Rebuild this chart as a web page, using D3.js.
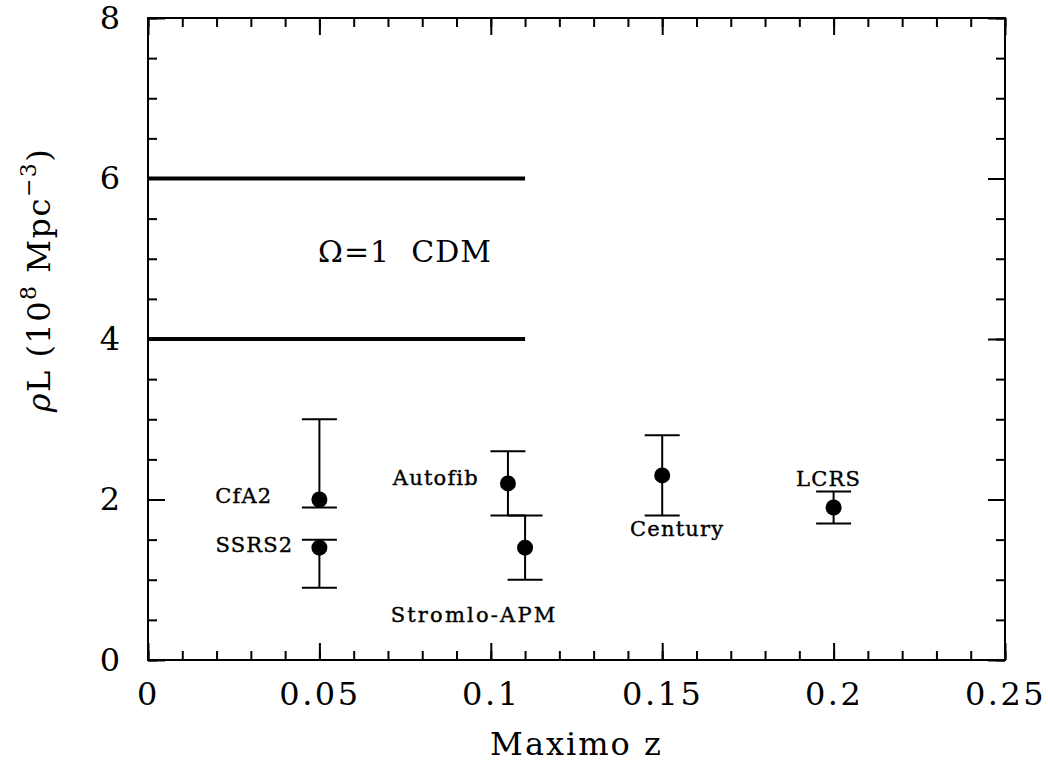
<!DOCTYPE html>
<html>
<head>
<meta charset="utf-8">
<script src="https://cdn.jsdelivr.net/npm/d3@7"></script>
<style>
  html, body { margin: 0; padding: 0; background: #fff; }
  svg { display: block; }
</style>
</head>
<body>
<script>
// ---- Data ----
const surveys = ["CfA2", "SSRS2", "Autofib", "Stromlo-APM", "Century", "LCRS"];
const zMax    = [0.05, 0.05, 0.105, 0.11, 0.15, 0.2];
const rhoL    = [2.0, 1.4, 2.2, 1.4, 2.3, 1.9];
const errLow  = [1.9, 0.9, 1.8, 1.0, 1.8, 1.7];
const errHigh = [3.0, 1.5, 2.6, 1.8, 2.8, 2.1];

const cdmLevels = [4, 6];
const cdmZStart = 0;
const cdmZEnd = 0.11;
const cdmLabel = "Ω=1  CDM";

const xMajorTicks = [0, 0.05, 0.1, 0.15, 0.2, 0.25];
const xTickLabels = ["0", "0.05", "0.1", "0.15", "0.2", "0.25"];
const yMajorTicks = [0, 2, 4, 6, 8];
const yTickLabels = ["0", "2", "4", "6", "8"];

// ---- Layout ----
const W = 1048, H = 764;
const m = { left: 148, right: 1048 - 1005, top: 18, bottom: 764 - 660 };
const font = "'DejaVu Serif', serif";

const svg = d3.select("body").append("svg").attr("width", W).attr("height", H);

const x = d3.scaleLinear().domain([0, 0.25]).range([m.left, W - m.right]);
const y = d3.scaleLinear().domain([0, 8]).range([H - m.bottom, m.top]);

const xMinor = d3.range(0, 0.2501, 0.01).map(v => +v.toFixed(2));
const yMinor = d3.range(0, 8.01, 0.5);

const majorLen = 17, minorLen = 9;

function styleAxis(g) {
  g.select(".domain").remove();
  g.selectAll(".tick line").attr("stroke", "#000").attr("stroke-width", 2);
  g.selectAll(".tick text").attr("font-family", font).attr("fill", "#000");
}

// bottom
svg.append("g").attr("transform", `translate(0,${y(0)})`)
  .call(d3.axisBottom(x).tickValues(xMinor).tickSize(-minorLen).tickFormat(""))
  .call(styleAxis);
svg.append("g").attr("transform", `translate(0,${y(0)})`)
  .call(d3.axisBottom(x).tickValues(xMajorTicks).tickSize(-majorLen).tickPadding(majorLen + 5)
        .tickFormat((d, i) => xTickLabels[i]))
  .call(styleAxis)
  .call(g => g.selectAll(".tick text").attr("font-size", 32).attr("letter-spacing", 2.5).attr("dy", "0.72em"));
// top
svg.append("g").attr("transform", `translate(0,${y(8)})`)
  .call(d3.axisTop(x).tickValues(xMinor).tickSize(-minorLen).tickFormat(""))
  .call(styleAxis);
svg.append("g").attr("transform", `translate(0,${y(8)})`)
  .call(d3.axisTop(x).tickValues(xMajorTicks).tickSize(-majorLen).tickFormat(""))
  .call(styleAxis);
// left
svg.append("g").attr("transform", `translate(${x(0)},0)`)
  .call(d3.axisLeft(y).tickValues(yMinor).tickSize(-minorLen).tickFormat(""))
  .call(styleAxis);
svg.append("g").attr("transform", `translate(${x(0)},0)`)
  .call(d3.axisLeft(y).tickValues(yMajorTicks).tickSize(-majorLen).tickPadding(majorLen + 11)
        .tickFormat((d, i) => yTickLabels[i]))
  .call(styleAxis)
  .call(g => g.selectAll(".tick text").attr("font-size", 32));
// right
svg.append("g").attr("transform", `translate(${x(0.25)},0)`)
  .call(d3.axisRight(y).tickValues(yMinor).tickSize(-minorLen).tickFormat(""))
  .call(styleAxis);
svg.append("g").attr("transform", `translate(${x(0.25)},0)`)
  .call(d3.axisRight(y).tickValues(yMajorTicks).tickSize(-majorLen).tickFormat(""))
  .call(styleAxis);

// frame
svg.append("rect")
  .attr("x", x(0)).attr("y", y(8))
  .attr("width", x(0.25) - x(0)).attr("height", y(0) - y(8))
  .attr("fill", "none").attr("stroke", "#000").attr("stroke-width", 2);

// CDM lines
svg.append("g").selectAll("line").data(cdmLevels).join("line")
  .attr("x1", x(cdmZStart)).attr("x2", x(cdmZEnd))
  .attr("y1", d => y(d)).attr("y2", d => y(d))
  .attr("stroke", "#000").attr("stroke-width", 4);

svg.append("text")
  .attr("x", 405).attr("y", 262)
  .attr("text-anchor", "middle")
  .attr("font-family", font).attr("font-size", 30)
  .attr("letter-spacing", 1)
  .style("white-space", "pre")
  .text(cdmLabel);

// data points
const pts = surveys.map((s, i) => ({ s, z: zMax[i], v: rhoL[i], lo: errLow[i], hi: errHigh[i] }));
const capW = 17.5;
const eg = svg.append("g").attr("stroke", "#000").attr("stroke-width", 2);
pts.forEach(p => {
  eg.append("line").attr("x1", x(p.z)).attr("x2", x(p.z)).attr("y1", y(p.lo)).attr("y2", y(p.hi));
  eg.append("line").attr("x1", x(p.z) - capW).attr("x2", x(p.z) + capW).attr("y1", y(p.lo)).attr("y2", y(p.lo));
  eg.append("line").attr("x1", x(p.z) - capW).attr("x2", x(p.z) + capW).attr("y1", y(p.hi)).attr("y2", y(p.hi));
});
svg.append("g").selectAll("circle").data(pts).join("circle")
  .attr("cx", d => x(d.z)).attr("cy", d => y(d.v)).attr("r", 8).attr("fill", "#000");

// labels (pixel offsets from each point)
const labelOffsets = {
  "CfA2":        { dx: -47, dy: 3,  anchor: "end" },
  "SSRS2":       { dx: -26, dy: 4,  anchor: "end" },
  "Autofib":     { dx: -29, dy: 2,  anchor: "end" },
  "Stromlo-APM": { dx: -51, dy: 74, anchor: "middle" },
  "Century":     { dx: 15,  dy: 61, anchor: "middle" },
  "LCRS":        { dx: -5,  dy: -22, anchor: "middle" }
};
svg.append("g").selectAll("text").data(pts).join("text")
  .attr("x", d => x(d.z) + labelOffsets[d.s].dx)
  .attr("y", d => y(d.v) + labelOffsets[d.s].dy)
  .attr("text-anchor", d => labelOffsets[d.s].anchor)
  .attr("font-family", font).attr("font-size", 21)
  .attr("letter-spacing", d => d.s === "Stromlo-APM" ? 2.2 : 1.2)
  .attr("stroke", "#000").attr("stroke-width", 0.4)
  .text(d => d.s);

// axis titles
svg.append("text")
  .attr("x", (x(0) + x(0.25)) / 2).attr("y", 755)
  .attr("text-anchor", "middle")
  .attr("font-family", font).attr("font-size", 32)
  .attr("letter-spacing", 2)
  .text("Maximo z");

const yt = svg.append("text")
  .attr("transform", `translate(50,280) rotate(-90)`)
  .attr("text-anchor", "middle")
  .attr("font-family", font).attr("font-size", 32)
  .attr("letter-spacing", 1.5);
yt.append("tspan").attr("font-style", "italic").text("ρ");
yt.append("tspan").text("L (10");
yt.append("tspan").attr("font-size", 22).attr("dy", -14).text("8");
yt.append("tspan").attr("dy", 14).text(" Mpc");
yt.append("tspan").attr("font-size", 22).attr("dy", -14).text("−3");
yt.append("tspan").attr("dy", 14).text(")");
</script>
</body>
</html>
